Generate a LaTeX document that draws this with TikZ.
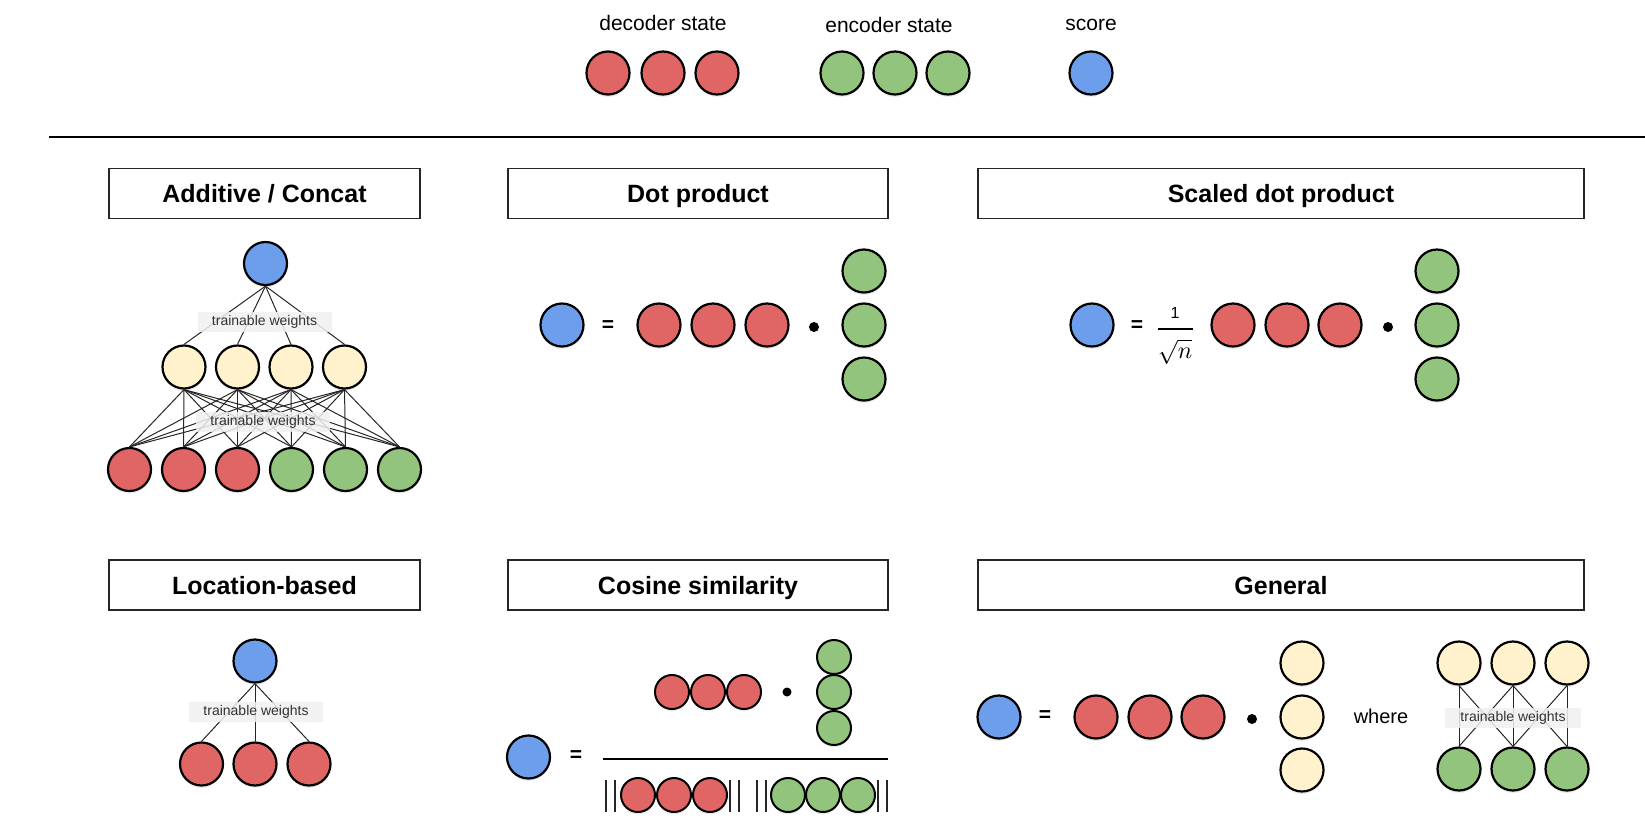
\documentclass[tikz,border=0pt]{standalone}
\usepackage{amsmath}
\usepackage{graphicx}
\usepackage{fontspec}
\setmainfont{Liberation Sans}
\usetikzlibrary{shadows}
\definecolor{decred}{RGB}{224,102,102}
\definecolor{encgreen}{RGB}{147,196,125}
\definecolor{scoreblue}{RGB}{109,158,235}
\definecolor{hidyellow}{RGB}{255,242,204}
\definecolor{tagfill}{RGB}{240,240,240}
\tikzset{every picture/.style={line width=0.75pt}}

\begin{document}
\begin{tikzpicture}[x=1pt,y=1pt,yscale=-1,xscale=1,
  unit/.style={circle,draw,line width=2.2pt,minimum size=43pt,inner sep=0pt,
    drop shadow={opacity=0.15,shadow xshift=0pt,shadow yshift=-2.5pt}},
  dec/.style={unit,fill=decred},
  enc/.style={unit,fill=encgreen},
  scr/.style={unit,fill=scoreblue},
  hid/.style={unit,fill=hidyellow},
  tiny/.style={minimum size=34pt,line width=2pt},
  title/.style={draw=black!85,line width=1.8pt,minimum height=50pt,inner sep=0pt,
    text height=18pt,text depth=0pt,font=\fontsize{25}{30}\selectfont\bfseries},
  legend/.style={font=\fontsize{21}{24}\selectfont},
  tag/.style={fill=tagfill,fill opacity=0.85,text opacity=1,text=black!80,
    minimum width=134pt,minimum height=20pt,inner sep=0pt,font=\fontsize{14}{16}\selectfont},
  eqsign/.style={inner sep=0pt,font=\fontsize{21}{24}\selectfont\bfseries},
  dotop/.style={circle,fill=black,inner sep=0pt,minimum size=10pt},
  wire/.style={line width=1pt,black!85},
  normbar/.style={line width=2.6pt,black!85}]
\useasboundingbox (0,0) rectangle (1645,823);

% legend
\node[legend] (ldec) at (663,23) {decoder state};
\node[legend] (lenc) at (889,25) {encoder state};
\node[legend] (lscr) at (1091,25) {score};
\node[dec] (d1) at (608,73) {};
\node[dec] (d2) at (663,73) {};
\node[dec] (d3) at (717,73) {};
\node[enc] (e1) at (842,73) {};
\node[enc] (e2) at (895,73) {};
\node[enc] (e3) at (948,73) {};
\node[scr] (s0) at (1091,73) {};
%Straight Lines
\draw[line width=2pt] (49,136.5) -- (1645,136.5);

% titles
\node[title,minimum width=311pt] (tadd) at (264.5,193.5) {Additive / Concat};
\node[title,minimum width=380pt] (tdot) at (698,193.5) {Dot product};
\node[title,minimum width=606pt] (tsdp) at (1281,193.5) {Scaled dot product};
\node[title,minimum width=311pt] (tloc) at (264.5,585) {Location-based};
\node[title,minimum width=380pt] (tcos) at (698,585) {Cosine similarity};
\node[title,minimum width=606pt] (tgen) at (1281,585) {General};

%Additive / Concat
\node[scr] (as) at (265.5,263.5) {};
\node[hid] (ah1) at (184,367) {};
\node[hid] (ah2) at (237.5,367) {};
\node[hid] (ah3) at (291,367) {};
\node[hid] (ah4) at (344.5,367) {};
\node[dec] (ab1) at (129.5,469.5) {};
\node[dec] (ab2) at (183.5,469.5) {};
\node[dec] (ab3) at (237.5,469.5) {};
\node[enc] (ab4) at (291.5,469.5) {};
\node[enc] (ab5) at (345.5,469.5) {};
\node[enc] (ab6) at (399.5,469.5) {};
\foreach \h in {1,...,4} {
  \draw[wire] (as.south) -- (ah\h.north);
  \foreach \b in {1,...,6} \draw[wire] (ah\h.south) -- (ab\b.north);
}
\node[tag] (atw1) at (264.5,322) {trainable weights};
\node[tag] (atw2) at (263,422) {trainable weights};

%Dot product
\node[scr] (ps) at (562,325) {};
\node[eqsign] (peq) at (608,326) {=};
\node[dec] (pd1) at (659,325) {};
\node[dec] (pd2) at (713,325) {};
\node[dec] (pd3) at (767,325) {};
\node[dotop] (pdot) at (814,327) {};
\node[enc] (pe1) at (864,271) {};
\node[enc] (pe2) at (864,325) {};
\node[enc] (pe3) at (864,379) {};

%Scaled dot product
\node[scr] (qs) at (1092,325) {};
\node[eqsign] (qeq) at (1137,326) {=};
% Text Node
\node[inner sep=0pt,font=\fontsize{16}{20}\selectfont] (qone) at (1175,313) {1};
\coordinate (qbl) at (1158,329);
\coordinate (qbr) at (1193,329);
\draw[line width=1.3pt] (qbl) -- (qbr);
\node[inner sep=0pt] (qroot) at (1175,352) {\scalebox{2.4}{$\sqrt{n}$}};
\node[dec] (qd1) at (1233,325) {};
\node[dec] (qd2) at (1287,325) {};
\node[dec] (qd3) at (1340,325) {};
\node[dotop] (qdot) at (1388,327) {};
\node[enc] (qe1) at (1437,271) {};
\node[enc] (qe2) at (1437,325) {};
\node[enc] (qe3) at (1437,379) {};

%Location-based
\node[scr] (ls) at (255,661) {};
\node[dec] (ld1) at (201.5,764) {};
\node[dec] (ld2) at (255,764) {};
\node[dec] (ld3) at (309,764) {};
\foreach \b in {1,2,3} \draw[wire] (ls.south) -- (ld\b.north);
\node[tag] (ltw) at (256,712) {trainable weights};

%Cosine similarity
\node[scr] (cs) at (528.5,757) {};
\node[eqsign] (ceq) at (576,756) {=};
\node[dec,tiny] (cn1) at (672,692) {};
\node[dec,tiny] (cn2) at (708,692) {};
\node[dec,tiny] (cn3) at (744,692) {};
\node[dotop,minimum size=9pt] (cdot) at (787,692) {};
\node[enc,tiny] (ce1) at (834,657) {};
\node[enc,tiny] (ce2) at (834,692) {};
\node[enc,tiny] (ce3) at (834,728) {};
\draw[line width=2pt] (603,759) -- (888,759);
\node[dec,tiny] (cm1) at (638,795) {};
\node[dec,tiny] (cm2) at (674,795) {};
\node[dec,tiny] (cm3) at (710,795) {};
\node[enc,tiny] (cm4) at (788,795) {};
\node[enc,tiny] (cm5) at (823,795) {};
\node[enc,tiny] (cm6) at (858,795) {};
\foreach \x in {606,615,730,739,757,766,878,887} \draw[normbar] (\x,780) -- (\x,812);

%General
\node[scr] (gs) at (999,717) {};
\node[eqsign] (geq) at (1045,716) {=};
\node[dec] (gd1) at (1096,717) {};
\node[dec] (gd2) at (1150,717) {};
\node[dec] (gd3) at (1203,717) {};
\node[dotop] (gdot) at (1252,719) {};
\node[hid] (gh1) at (1302,663) {};
\node[hid] (gh2) at (1302,717) {};
\node[hid] (gh3) at (1302,770) {};
% Text Node
\node[font=\fontsize{20}{24}\selectfont] (gwh) at (1381,716) {where};
\node[hid] (gt1) at (1459,663) {};
\node[hid] (gt2) at (1513,663) {};
\node[hid] (gt3) at (1567,663) {};
\node[enc] (gb1) at (1459,769) {};
\node[enc] (gb2) at (1513,769) {};
\node[enc] (gb3) at (1567,769) {};
\draw[wire] (gt1.south) -- (gb1.north);
\draw[wire] (gt1.south) -- (gb2.north);
\draw[wire] (gt2.south) -- (gb1.north);
\draw[wire] (gt2.south) -- (gb2.north);
\draw[wire] (gt2.south) -- (gb3.north);
\draw[wire] (gt3.south) -- (gb2.north);
\draw[wire] (gt3.south) -- (gb3.north);
\node[tag,minimum width=136pt] (gtw) at (1513,718) {trainable weights};

\end{tikzpicture}
\end{document}
